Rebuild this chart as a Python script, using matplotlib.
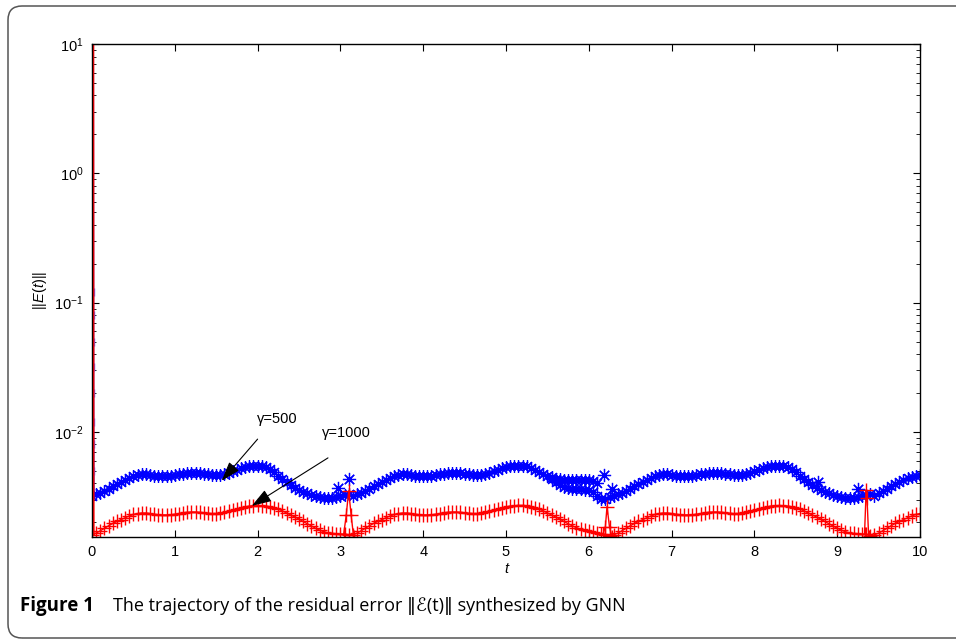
import numpy as np
import matplotlib
matplotlib.use("Agg")
import matplotlib.pyplot as plt
from matplotlib.patches import FancyBboxPatch
from matplotlib.transforms import IdentityTransform

plt.rcParams['font.family'] = ['Liberation Sans', 'DejaVu Sans']
plt.rcParams['mathtext.fontset'] = 'custom'
plt.rcParams['mathtext.rm'] = 'Liberation Sans'
plt.rcParams['mathtext.it'] = 'Liberation Sans:italic'

# ---------------- data (values in units of 1e-3) ----------------
t = np.round(np.arange(201) * 0.05, 2)

blue_err = [
    # t = 0.00 .. 3.10
    3.2, 3.3, 3.4, 3.5, 3.65, 3.8, 3.95, 4.1, 4.25, 4.4,
    4.55, 4.65, 4.7, 4.7, 4.65, 4.6, 4.55, 4.55, 4.55, 4.6,
    4.65, 4.7, 4.75, 4.8, 4.8, 4.8, 4.8, 4.75, 4.7, 4.65,
    4.65, 4.65, 4.7, 4.8, 4.95, 5.1, 5.25, 5.35, 5.45, 5.5,
    5.5, 5.45, 5.35, 5.15, 4.9, 4.6, 4.35, 4.1, 3.9, 3.7,
    3.55, 3.45, 3.35, 3.25, 3.2, 3.15, 3.1, 3.1, 3.1, 3.15,
    3.2, 3.25, 3.3,
    # t = 3.15 .. 6.25
    3.2, 3.3, 3.4, 3.5, 3.65, 3.8, 3.95, 4.1, 4.25, 4.4,
    4.55, 4.65, 4.7, 4.7, 4.65, 4.6, 4.55, 4.55, 4.55, 4.6,
    4.65, 4.7, 4.75, 4.8, 4.8, 4.8, 4.8, 4.75, 4.7, 4.65,
    4.65, 4.65, 4.7, 4.8, 4.95, 5.1, 5.25, 5.35, 5.45, 5.5,
    5.5, 5.5, 5.45, 5.3, 5.1, 4.9, 4.7, 4.55, 4.35, 4.1,
    3.9, 3.75, 3.68, 3.64, 3.62, 3.6, 3.58, 3.55, 3.45, 3.2,
    3.02, 3.05, 3.12,
    # t = 6.30 .. 9.40
    3.2, 3.3, 3.4, 3.5, 3.65, 3.8, 3.95, 4.1, 4.25, 4.4,
    4.55, 4.65, 4.7, 4.7, 4.65, 4.6, 4.55, 4.55, 4.55, 4.6,
    4.65, 4.7, 4.75, 4.8, 4.8, 4.8, 4.8, 4.75, 4.7, 4.65,
    4.65, 4.65, 4.7, 4.8, 4.95, 5.1, 5.25, 5.35, 5.45, 5.5,
    5.5, 5.45, 5.35, 5.15, 4.9, 4.6, 4.35, 4.1, 3.9, 3.7,
    3.55, 3.45, 3.35, 3.25, 3.2, 3.15, 3.1, 3.1, 3.1, 3.15,
    3.2, 3.25, 3.3,
    # t = 9.45 .. 10.00
    3.2, 3.35, 3.5, 3.65, 3.8, 3.95, 4.1, 4.25, 4.4, 4.5,
    4.6, 4.65,
]

red_err = [
    # t = 0.00 .. 3.10
    1.6, 1.65, 1.72, 1.8, 1.88, 1.96, 2.03, 2.1, 2.17, 2.24,
    2.3, 2.34, 2.36, 2.36, 2.34, 2.31, 2.29, 2.28, 2.28, 2.29,
    2.31, 2.34, 2.37, 2.39, 2.4, 2.4, 2.39, 2.37, 2.35, 2.34,
    2.34, 2.36, 2.39, 2.43, 2.48, 2.53, 2.58, 2.63, 2.67, 2.69,
    2.7, 2.69, 2.67, 2.64, 2.6, 2.53, 2.45, 2.36, 2.28, 2.2,
    2.12, 2.03, 1.95, 1.87, 1.8, 1.74, 1.69, 1.66, 1.64, 1.63,
    1.62, 1.62, 1.6,
    # t = 3.15 .. 6.25
    1.6, 1.65, 1.72, 1.8, 1.88, 1.96, 2.03, 2.1, 2.17, 2.24,
    2.3, 2.34, 2.36, 2.36, 2.34, 2.31, 2.29, 2.28, 2.28, 2.29,
    2.31, 2.34, 2.37, 2.39, 2.4, 2.4, 2.39, 2.37, 2.35, 2.34,
    2.34, 2.36, 2.39, 2.43, 2.48, 2.53, 2.58, 2.63, 2.67, 2.69,
    2.7, 2.7, 2.68, 2.65, 2.6, 2.53, 2.45, 2.36, 2.28, 2.2,
    2.12, 2.03, 1.95, 1.88, 1.82, 1.77, 1.73, 1.7, 1.67, 1.65,
    1.63, 1.6, 1.57,
    # t = 6.30 .. 9.40
    1.6, 1.65, 1.72, 1.8, 1.88, 1.96, 2.03, 2.1, 2.17, 2.24,
    2.3, 2.34, 2.36, 2.36, 2.34, 2.31, 2.29, 2.28, 2.28, 2.29,
    2.31, 2.34, 2.37, 2.39, 2.4, 2.4, 2.39, 2.37, 2.35, 2.34,
    2.34, 2.36, 2.39, 2.43, 2.48, 2.53, 2.58, 2.63, 2.67, 2.69,
    2.7, 2.69, 2.67, 2.64, 2.6, 2.53, 2.45, 2.36, 2.28, 2.2,
    2.12, 2.03, 1.95, 1.87, 1.8, 1.74, 1.69, 1.66, 1.64, 1.63,
    1.62, 1.62, 1.58,
    # t = 9.45 .. 10.00
    1.6, 1.65, 1.72, 1.8, 1.88, 1.96, 2.03, 2.1, 2.17, 2.24,
    2.3, 2.34,
]

# initial transient (t close to 0)
trans_t = [0.016, 0.017, 0.018, 0.019, 0.020, 0.022, 0.024]
blue_trans = [10000.0, 2000.0, 300.0, 30.0, 8.0, 4.0, 3.2]
red_trans = [10000.0, 1000.0, 80.0, 6.0, 1.8, 1.62, 1.6]
blue_trans_mark_t = [0.024, 0.024, 0.024, 0.024, 0.024, 0.024, 0.024, 0.024]
blue_trans_mark_v = [120.0, 80.0, 50.0, 32.0, 20.0, 12.0, 8.0, 5.0]

# blue second branch and isolated points
blue_band_t = [5.55, 5.60, 5.65, 5.70, 5.75, 5.80, 5.85, 5.90, 5.95, 6.00, 6.05, 6.10]
blue_band_v = [4.45, 4.35, 4.3, 4.25, 4.25, 4.25, 4.25, 4.25, 4.25, 4.25, 4.2, 4.0]
blue_out_t = [2.97, 3.10, 6.18, 6.28, 8.77, 9.25]
blue_out_v = [3.7, 4.3, 4.66, 3.63, 4.1, 3.6]

# red spikes
spike1_t = [3.04, 3.07, 3.10, 3.13, 3.16]
spike1_v = [1.62, 2.26, 3.5, 2.26, 1.54]
spike2_t = [6.17, 6.20, 6.22, 6.25, 6.28]
spike2_v = [1.62, 1.84, 2.65, 1.84, 1.54]
spike3_t = [9.33, 9.35, 9.36, 9.38]
spike3_v = [1.62, 3.56, 3.1, 1.54]

gamma_labels = ['γ=500', 'γ=1000']

# ---------------- figure ----------------
W, H = 956, 642
fig = plt.figure(figsize=(W / 100, H / 100), dpi=100)

border = FancyBboxPatch((8, H - 638), 980, 632,
                        boxstyle="round,pad=0,rounding_size=14",
                        transform=IdentityTransform(), fill=False,
                        edgecolor='#555555', linewidth=1.1)
fig.patches.append(border)

ax = fig.add_axes([92 / W, 1 - 537 / H, 828 / W, 493 / H])

scale = 1e-3
star = (8, 2, 0)
ax.plot(trans_t, np.array(blue_trans) * scale, color='blue', lw=1.0)
ax.plot(blue_trans_mark_t, np.array(blue_trans_mark_v) * scale, color='#6666ff',
        lw=0, marker='|', ms=6, mew=1.0)
ax.plot(t, np.array(blue_err) * scale, color='blue', lw=1.0,
        marker=star, ms=9, mew=0.9)
ax.plot(blue_band_t, np.array(blue_band_v) * scale, color='blue', lw=0.8,
        marker=star, ms=9, mew=0.9)
ax.plot(blue_out_t, np.array(blue_out_v) * scale, color='blue', lw=0,
        marker=star, ms=9.5, mew=0.9)

ax.plot(trans_t, np.array(red_trans) * scale, color='red', lw=1.4)
ax.plot(t, np.array(red_err) * scale, color='red', lw=1.0,
        marker='+', ms=9.5, mew=1.0)
for st, sv in [(spike1_t, spike1_v), (spike2_t, spike2_v), (spike3_t, spike3_v)]:
    ax.plot(st, np.array(sv) * scale, color='red', lw=1.0, marker='+', ms=9.5, mew=1.0)

ax.set_yscale('log')
ax.set_xlim(0, 10)
ax.set_ylim(1.54e-3, 10)
ax.set_xticks(range(11))
ax.set_yticks([1e-2, 1e-1, 1e0, 1e1])
ax.tick_params(which='both', direction='in', top=True, right=True,
               labelsize=10.5, colors='black')
ax.tick_params(which='major', length=5, width=0.8, pad=6)
ax.tick_params(which='minor', length=3, width=0.6)
for s in ax.spines.values():
    s.set_linewidth(1.0)

ax.set_xlabel('t', fontsize=10.5, style='italic', labelpad=2)
ax.set_ylabel(r'$||E(t)||$', fontsize=10.5, labelpad=4)

arrow_style = '-|>,head_length=0.6,head_width=0.2'
ax.annotate('', xy=(1.566, 4.19e-3), xytext=(2.0, 8.8e-3),
            arrowprops=dict(arrowstyle=arrow_style, color='black', lw=0.8,
                            mutation_scale=20, shrinkA=0, shrinkB=0))
ax.text(1.99, 0.0126, gamma_labels[0], fontsize=10.5, ha='left', va='center')
ax.annotate('', xy=(1.93, 2.68e-3), xytext=(2.85, 6.3e-3),
            arrowprops=dict(arrowstyle=arrow_style, color='black', lw=0.8,
                            mutation_scale=20, shrinkA=0, shrinkB=0))
ax.text(2.78, 9.8e-3, gamma_labels[1], fontsize=10.5, ha='left', va='center')

fig.text(20 / W, 1 - 606 / H, 'Figure 1', fontsize=13.5, fontweight='bold',
         family=['Open Sans', 'DejaVu Sans'], va='center', ha='left')
fig.text(113 / W, 1 - 606 / H,
         'The trajectory of the residual error \u2016\u2130(t)\u2016 synthesized by GNN',
         fontsize=13, family=['Open Sans', 'DejaVu Sans'], va='center', ha='left')

fig.savefig('out.png', dpi=100)
